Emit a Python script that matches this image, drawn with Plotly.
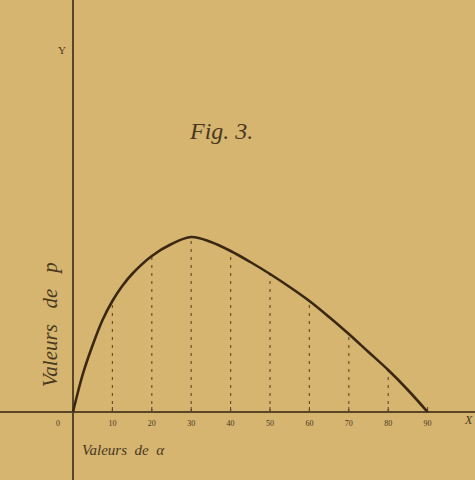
import plotly.graph_objects as go

# Data: angle alpha (degrees) and values of p (arbitrary units)
alpha = [0, 2.5, 5, 7.5, 10, 12.5, 15, 20, 25, 30, 35, 40, 45, 50, 55,
         60, 65, 70, 75, 80, 85, 90]
p_vals = [0, 38, 67, 92, 111, 126, 138, 156, 168, 175, 170, 161, 150, 138, 125,
          111, 95, 78, 60, 42, 22, 0]

tick_alpha = [10, 20, 30, 40, 50, 60, 70, 80, 90]
tick_labels = ["10", "20", "30", "40", "50", "60", "70", "80", "90"]
tick_p = [p_vals[alpha.index(a)] for a in tick_alpha]

ink = "#3a2812"
axis_ink = "#5a4526"
txt = "#4a3820"
bg = "#d5b56f"
PX = 3.94  # pixels per degree

fig = go.Figure()

# dashed ordinates
dx, dy = [], []
for a, v in zip(tick_alpha, tick_p):
    dx += [a, a, None]
    dy += [0, v, None]
fig.add_trace(go.Scatter(x=dx, y=dy, mode="lines",
                         line=dict(color="#6b5128", width=1.2, dash="3px,5px"),
                         hoverinfo="skip", showlegend=False))

# small tick marks
tx, ty = [], []
for a in tick_alpha:
    tx += [a, a, None]
    ty += [0, 5, None]
fig.add_trace(go.Scatter(x=tx, y=ty, mode="lines",
                         line=dict(color=axis_ink, width=1),
                         hoverinfo="skip", showlegend=False))

# main curve
fig.add_trace(go.Scatter(x=alpha, y=p_vals, mode="lines",
                         line=dict(color=ink, width=2.6, shape="spline", smoothing=1.0),
                         hoverinfo="skip", showlegend=False))

# tick labels
fig.add_trace(go.Scatter(x=[-3.8] + tick_alpha, y=[-12] * (len(tick_alpha) + 1),
                         mode="text", text=["0"] + tick_labels,
                         textfont=dict(family="Liberation Serif", size=8, color=txt),
                         hoverinfo="skip", showlegend=False))

annots = [
    dict(x=1.8, y=-38, text="<i>Valeurs&nbsp; de&nbsp; α</i>", xanchor="left", size=15),
    dict(x=-5.8, y=87, text="<i>Valeurs&nbsp;&nbsp; de&nbsp;&nbsp; p</i>", textangle=-90, size=21),
    dict(x=37.5, y=281, text="<i>Fig. 3.</i>", size=24),
    dict(x=-2.8, y=362, text="Y", size=11),
]
for a in annots:
    fig.add_annotation(x=a["x"], y=a["y"], text=a["text"], showarrow=False,
                       xanchor=a.get("xanchor", "center"),
                       textangle=a.get("textangle", 0),
                       font=dict(family="Liberation Serif", size=a["size"], color=txt))
fig.add_annotation(x=1, xref="paper", y=-8, text="<i>X</i>", showarrow=False,
                   xanchor="right", font=dict(family="Liberation Serif", size=12, color=txt))

fig.update_layout(
    width=475, height=480,
    margin=dict(l=0, r=0, t=0, b=0),
    paper_bgcolor=bg, plot_bgcolor=bg,
    xaxis=dict(range=[-73 / PX, 402 / PX], showgrid=False, showticklabels=False,
               ticks="", zeroline=True, zerolinecolor=axis_ink, zerolinewidth=1.6,
               fixedrange=True),
    yaxis=dict(range=[-68, 412], showgrid=False, showticklabels=False,
               ticks="", zeroline=True, zerolinecolor=axis_ink, zerolinewidth=1.6,
               fixedrange=True),
)

fig.write_html("out.html", config={"displayModeBar": False},
               post_script="document.body.style.margin='0';document.body.style.background='%s';" % bg)
